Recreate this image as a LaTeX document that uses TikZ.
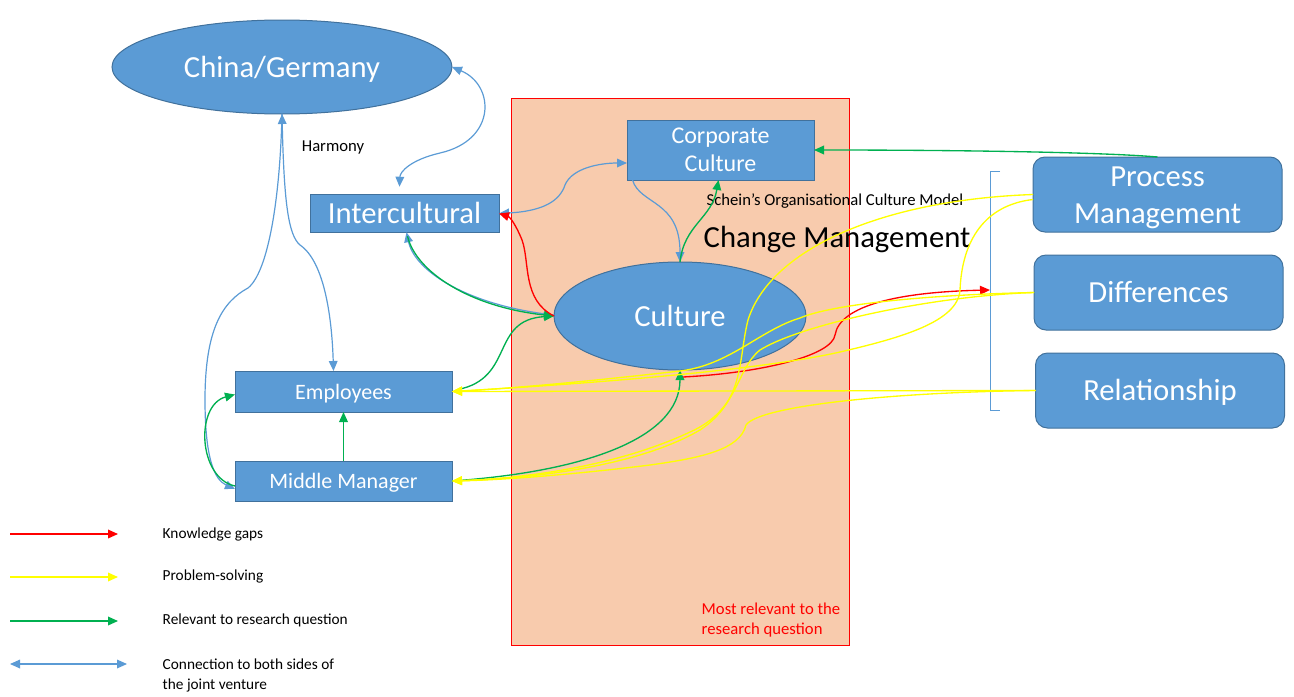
\documentclass[tikz,border=0pt]{standalone}
\usepackage{fontspec}
\setmainfont{Carlito}
\usetikzlibrary{arrows.meta, shapes.geometric, calc}

\definecolor{boxblue}{HTML}{5B9BD5}
\definecolor{boxline}{HTML}{41719C}
\definecolor{peach}{HTML}{F8CBAD}
\definecolor{gapred}{HTML}{FF0000}
\definecolor{solveyellow}{HTML}{FFFF00}
\definecolor{relgreen}{HTML}{00B050}
\definecolor{linkblue}{HTML}{5B9BD5}

\newcommand\fsbig{\fontsize{23}{27.75}\selectfont}
\newcommand\fsmid{\fontsize{18}{21}\selectfont}
\newcommand\fsbox{\fontsize{16.5}{20}\selectfont}
\newcommand\fsnote{\fontsize{12.5}{15}\selectfont}
\newcommand\fskey{\fontsize{11.5}{15}\selectfont}

\tikzset{
    bluebox/.style={draw=boxline, fill=boxblue, text=white, line width=0.75pt, inner sep=0pt, outer sep=0pt},
    bigtext/.style={font=\fsbig, text height=21.9pt, text depth=6.2pt},
    boxtext/.style={font=\fsbox, text height=15.7pt, text depth=4.4pt},
    blueoval/.style={bluebox, ellipse, bigtext},
    roundbox/.style={bluebox, rounded corners=9pt, minimum width=186.75pt, minimum height=56.25pt, bigtext},
    gaparrow/.style={gapred, line width=1pt, -{Triangle[length=7.5pt,width=6.5pt]}},
    solvearrow/.style={solveyellow, line width=1pt, -{Triangle[length=7.5pt,width=6.5pt]}},
    relarrow/.style={relgreen, line width=1pt, -{Triangle[length=7.5pt,width=6.5pt]}},
    jointarrow/.style={linkblue, line width=0.9pt, {Triangle[length=7.5pt,width=6.5pt]}-{Triangle[length=7.5pt,width=6.5pt]}},
    jointone/.style={linkblue, line width=0.9pt, -{Triangle[length=7.5pt,width=6.5pt]}},
}

\begin{document}
\begin{tikzpicture}[x=0.75pt, y=-0.75pt]
    \newcommand\colL{343.5}
    \newcommand\colR{1158.5}

    \useasboundingbox (0,0) rectangle (1294,696);
    \draw[draw=gapred, fill=peach, line width=0.75pt] (511,98) rectangle (849,645);

    \node[blueoval, minimum width=255pt, minimum height=70.5pt] (CG) at (282, 67){China/Germany};
    \node[bluebox, minimum width=140.25pt, minimum height=45pt, align=center, font=\fsmid] (CC) at (720.5, 150){Corporate\\Culture};
    \node[bluebox, minimum width=141.75pt, minimum height=27.75pt, bigtext] (IC) at (404.5, 213.5){Intercultural};
    \node[blueoval, minimum width=189pt, minimum height=81pt] (Cul) at (680, 316){Culture};
    \node[bluebox, minimum width=162.75pt, minimum height=30.75pt, boxtext] (Emp) at (\colL, 391.5){Employees};
    \node[bluebox, minimum width=162.75pt, minimum height=30pt, boxtext] (MM) at (\colL, 481){Middle Manager};

    \node[roundbox, align=center, text height=49.6pt, text depth=6.2pt] (PM) at (\colR - 1, 194.5){Process\\Management};
    \node[roundbox] (Diff) at (\colR, 292.5){Differences};
    \node[roundbox] (Rel) at (\colR + 1.5, 390.5){Relationship};

    \node[font=\fsnote] (harm) at (333, 147){Harmony};
    \node[font=\fsnote] (schein) at (835, 201){Schein’s Organisational Culture Model};
    \node[bigtext] (chg) at (837, 237){Change Management};
    \node[anchor=west, align=left, text=gapred, font=\fsnote] (most) at (697, 620){Most relevant to the\\research question};

    % bracket on the right
    \draw[linkblue, line width=0.75pt] (1000,171) -- (990,171) -- (990,410) -- (1000,410);
    \coordinate (brk) at (990, 290);

    % blue: both sides of the joint venture
    \draw[jointarrow] (CG.east) .. controls (495,85) and (497,140) .. (440,153) .. controls (410,160) and (400,172) .. ($(IC.north)+(-5,-8)$);
    \draw[jointarrow] (CG.south) .. controls (284,200) and (288,235) .. (300,245) .. controls (325,262) and (332,320) .. ($(Emp.north)+(-10,0)$);
    \draw[jointone] (CG.south) .. controls (280,200) and (268,272) .. (248,288) .. controls (222,302) and (205,330) .. (205,400) .. controls (205,460) and (215,480) .. ($(MM.west)+(0,8)$);
    \draw[jointarrow] (IC.east) .. controls (545,211) and (560,200) .. (565,185) .. controls (572,168) and (600,163) .. ($(CC.west)+(0,13)$);
    \draw[jointone] ($(CC.south)+(-88,0)$) .. controls (640,205) and (680,200) .. (Cul.north);
    \draw[jointone] ($(Cul.west)+(0,-1)$) .. controls (470,306) and (415,272) .. ($(IC.south)+(2,0)$);

    % green: relevant to research question
    \draw[relarrow] (Cul.north) .. controls (684,225) and (712,218) .. ($(CC.south)+(-2,0)$);
    \draw[relarrow] ($(IC.south)+(3,4)$) .. controls (416,272) and (470,307) .. (Cul.west);
    \draw[relarrow] ($(Emp.east)+(6,-2)$) .. controls (515,378) and (490,320) .. (Cul.west);
    \draw[relarrow] (MM.north) -- (Emp.south);
    \draw[relarrow] ($(MM.west)+(0,5)$) .. controls (198,478) and (195,405) .. ($(Emp.west)+(0,3)$);
    \draw[relarrow] (MM.east) .. controls (580,472) and (680,440) .. (Cul.south);
    \draw[relarrow] (PM.north) .. controls (1100,152) and (950,150) .. (CC.east);

    % red: knowledge gaps
    \draw[gaparrow] (Cul.west) .. controls (522,300) and (530,262) .. (522,240) .. controls (516,225) and (510,217) .. (IC.east);
    \draw[gaparrow] ($(Cul.south)+(3,7)$) .. controls (760,373) and (832,356) .. (835,335) .. controls (840,305) and (900,292) .. (brk);

    % yellow: problem-solving
    \draw[solvearrow] (PM.west) .. controls (880,200) and (770,250) .. (748,320) .. controls (738,360) and (745,400) .. (700,430) .. controls (640,465) and (540,478) .. (MM.east);
    \draw[solvearrow] ($(PM.west)+(0,5)$) .. controls (985,205) and (962,240) .. (960,290) .. controls (958,322) and (900,338) .. (840,352) .. controls (760,370) and (600,383) .. (Emp.east);
    \draw[solvearrow] (Diff.west) .. controls (920,295) and (830,305) .. (800,318) .. controls (760,330) and (730,365) .. (680,371) .. controls (600,380) and (520,388) .. (Emp.east);
    \draw[solvearrow] (Diff.west) .. controls (930,296) and (800,325) .. (760,350) .. controls (735,370) and (740,410) .. (690,432) .. controls (620,465) and (530,478) .. (MM.east);
    \draw[solvearrow] (Rel.west) -- (Emp.east);
    \draw[solvearrow] (Rel.west) .. controls (900,392) and (760,405) .. (746,425) .. controls (740,450) and (700,458) .. (650,465) .. controls (570,475) and (500,480) .. (MM.east);

    % legend
    \coordinate (k1a) at (10, 534);  \coordinate (k1b) at (118, 534);
    \coordinate (k2a) at (10, 577);  \coordinate (k2b) at (118, 577);
    \coordinate (k3a) at (10, 621);  \coordinate (k3b) at (118, 621);
    \coordinate (k4a) at (10, 664);  \coordinate (k4b) at (127, 664);
    \draw[gaparrow] (k1a) -- (k1b);
    \draw[solvearrow] (k2a) -- (k2b);
    \draw[relarrow] (k3a) -- (k3b);
    \draw[jointarrow] (k4a) -- (k4b);

    \node[anchor=west, font=\fskey] (key1) at (158, 534){Knowledge gaps};
    \node[anchor=west, font=\fskey] (key2) at (158, 576){Problem-solving};
    \node[anchor=west, font=\fskey] (key3) at (158, 620){Relevant to research question};
    \node[anchor=west, align=left, font=\fskey] (key4) at (158, 675){Connection to both sides of\\the joint venture};
\end{tikzpicture}
\end{document}
